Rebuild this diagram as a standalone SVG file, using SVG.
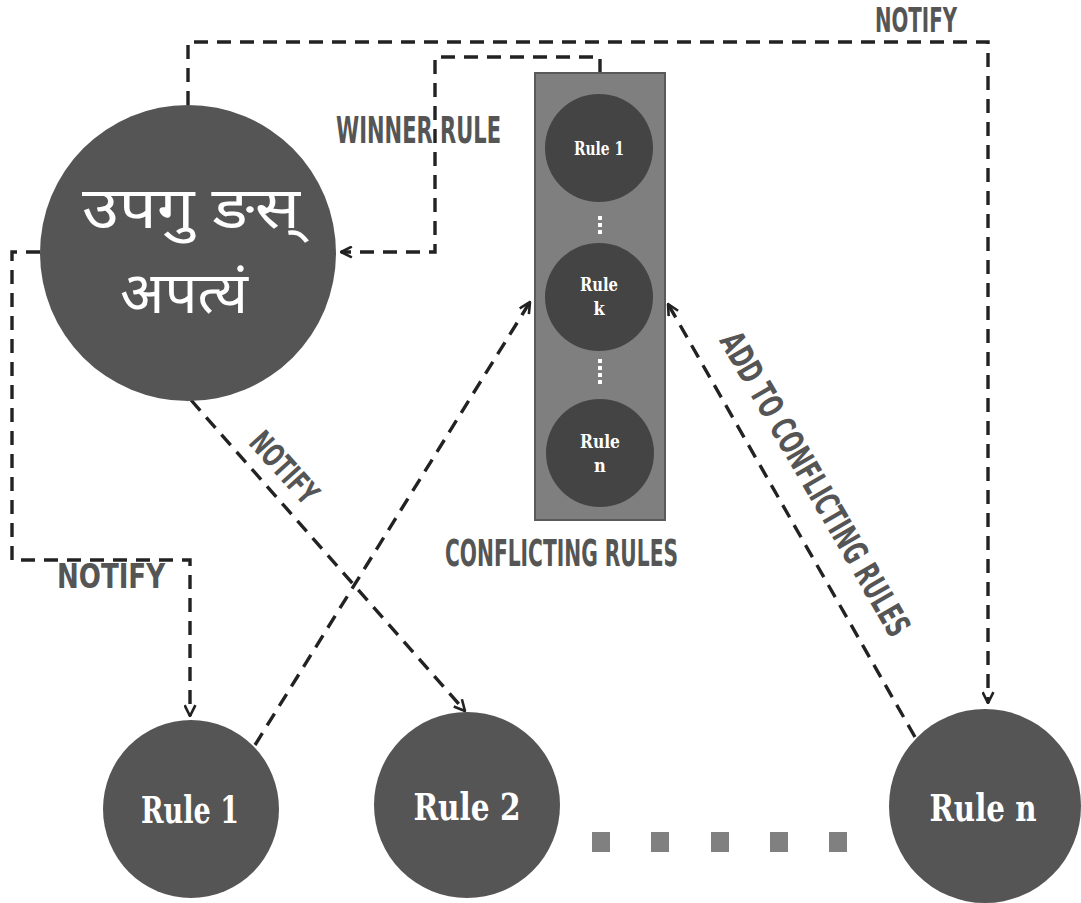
<svg xmlns="http://www.w3.org/2000/svg" width="1081" height="903" viewBox="0 0 1081 903">
<defs>
<marker id="arr" viewBox="0 0 12 12" refX="11" refY="6" markerWidth="13" markerHeight="13" markerUnits="userSpaceOnUse" orient="auto">
<path d="M1,1 L11,6 L1,11" fill="none" stroke="#222" stroke-width="2.4"/>
</marker>
<style>
.conn{fill:none;stroke:#222;stroke-width:3.4;stroke-dasharray:14 9;}
.big{fill:#555;}
.inner{fill:#444;}
.lbl{font-family:"DejaVu Sans Condensed","DejaVu Sans",sans-serif;font-stretch:condensed;font-weight:bold;fill:#555;}
.rule{font-family:"DejaVu Serif Condensed","DejaVu Serif",serif;font-stretch:condensed;font-weight:bold;fill:#fff;text-anchor:middle;}
.hin{font-family:"Noto Sans Devanagari","Noto Sans","Lohit Devanagari",sans-serif;fill:#fff;text-anchor:middle;font-size:58px;}
.dot{fill:#fff;}
.sq{fill:#808080;}
</style>
</defs>
<rect width="1081" height="903" fill="#fff"/>
<g id="connectors">
<path class="conn" d="M188,105 V42 H988 V703" marker-end="url(#arr)"/>
<path class="conn" d="M600,73 V57 H435 V252 H341" marker-end="url(#arr)"/>
<path class="conn" d="M40,252 H12 V560 H190 V716" marker-end="url(#arr)"/>
<path class="conn" d="M191,400 L465,711" marker-end="url(#arr)"/>
<path class="conn" d="M255,745 L530,302" marker-end="url(#arr)"/>
<path class="conn" d="M915,737 L668,304" marker-end="url(#arr)"/>
</g>
<g id="labels">
<text class="lbl" x="875" y="32" font-size="34" textLength="82" lengthAdjust="spacingAndGlyphs">NOTIFY</text>
<text class="lbl" x="336" y="143" font-size="37" textLength="165" lengthAdjust="spacingAndGlyphs">WINNER RULE</text>
<text class="lbl" x="57" y="588" font-size="34" textLength="108" lengthAdjust="spacingAndGlyphs">NOTIFY</text>
<text class="lbl" font-size="32" text-anchor="middle" transform="translate(276,475) rotate(48)" textLength="85" lengthAdjust="spacingAndGlyphs">NOTIFY</text>
<text class="lbl" x="445" y="566" font-size="37" textLength="233" lengthAdjust="spacingAndGlyphs">CONFLICTING RULES</text>
<text class="lbl" font-size="34" text-anchor="middle" transform="translate(805,490) rotate(60)" textLength="345" lengthAdjust="spacingAndGlyphs">ADD TO CONFLICTING RULES</text>
</g>
<g id="master">
<circle class="big" cx="188" cy="253" r="148"/>
<text class="hin" x="191" y="228" textLength="218" lengthAdjust="spacingAndGlyphs">उपगु ङस्</text>
<text class="hin" x="184" y="313" textLength="128" lengthAdjust="spacingAndGlyphs">अपत्यं</text>
</g>
<g id="conflicting-rules">
<rect x="535" y="73" width="130" height="447" fill="#7f7f7f" stroke="#5a5a5a" stroke-width="2"/>
<g id="cr-rule1">
<circle class="inner" cx="599" cy="148" r="54"/>
<text class="rule" x="599" y="155" font-size="18" textLength="50" lengthAdjust="spacingAndGlyphs">Rule 1</text>
</g>
<rect class="dot" x="598" y="216" width="4" height="4"/>
<rect class="dot" x="598" y="223" width="4" height="4"/>
<rect class="dot" x="598" y="230" width="4" height="4"/>
<g id="cr-rulek">
<circle class="inner" cx="599" cy="297" r="54"/>
<text class="rule" x="599" y="291" font-size="18" textLength="38" lengthAdjust="spacingAndGlyphs">Rule</text>
<text class="rule" x="599" y="315" font-size="18">k</text>
</g>
<rect class="dot" x="598" y="359" width="4" height="4"/>
<rect class="dot" x="598" y="366" width="4" height="4"/>
<rect class="dot" x="598" y="373" width="4" height="4"/>
<rect class="dot" x="598" y="380" width="4" height="4"/>
<g id="cr-rulen">
<circle class="inner" cx="600" cy="453" r="54"/>
<text class="rule" x="600" y="448" font-size="18" textLength="40" lengthAdjust="spacingAndGlyphs">Rule</text>
<text class="rule" x="600" y="472" font-size="18">n</text>
</g>
</g>
<g id="rule1">
<ellipse class="big" cx="191" cy="809" rx="88" ry="89"/>
<text class="rule" x="190" y="823" font-size="38" textLength="98" lengthAdjust="spacingAndGlyphs">Rule 1</text>
</g>
<g id="rule2">
<ellipse class="big" cx="467" cy="805" rx="93" ry="93"/>
<text class="rule" x="467" y="820" font-size="38" textLength="107" lengthAdjust="spacingAndGlyphs">Rule 2</text>
</g>
<g id="rulen">
<ellipse class="big" cx="985" cy="806" rx="96" ry="97"/>
<text class="rule" x="983" y="821" font-size="38" textLength="107" lengthAdjust="spacingAndGlyphs">Rule n</text>
</g>
<g id="ellipsis">
<rect class="sq" x="592" y="832" width="18" height="20"/>
<rect class="sq" x="651" y="832" width="18" height="20"/>
<rect class="sq" x="711" y="832" width="18" height="20"/>
<rect class="sq" x="770" y="832" width="18" height="20"/>
<rect class="sq" x="829" y="832" width="18" height="20"/>
</g>
</svg>
